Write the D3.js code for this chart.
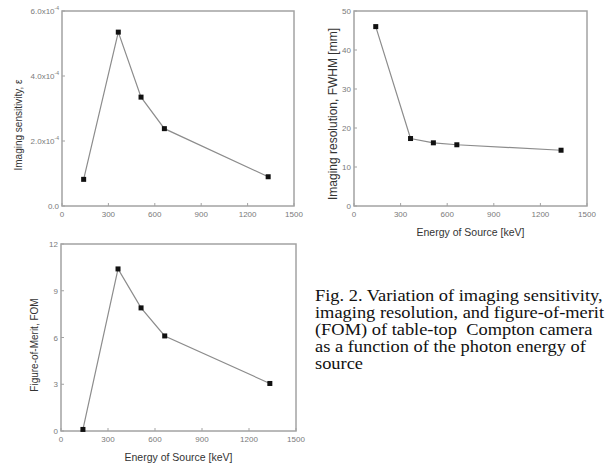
<!DOCTYPE html>
<html>
<head>
<meta charset="utf-8">
<script src="https://cdn.jsdelivr.net/npm/d3@7"></script>
<style>
  body { margin: 0; background: #fff; }
  svg { display: block; }
</style>
</head>
<body>
<div id="chart"></div>
<script>
// photon energies of the sources [keV]
const energies = [140, 364, 511, 662, 1333];
const sensitivity = [0.82e-4, 5.35e-4, 3.35e-4, 2.38e-4, 0.9e-4];
const resolution = [46.0, 17.3, 16.2, 15.7, 14.3];
const fom = [0.1, 10.4, 7.9, 6.1, 3.05];

const xTicks = [0, 300, 600, 900, 1200, 1500];
const sensTicks = [0, 2e-4, 4e-4, 6e-4];
const sensTickLabels = ['0.0', '2.0x10', '4.0x10', '6.0x10'];
const resTicks = [0, 10, 20, 30, 40, 50];
const fomTicks = [0, 3, 6, 9, 12];

const captionLines = [
    'Fig. 2. Variation of imaging sensitivity,',
    'imaging resolution, and figure-of-merit',
    '(FOM) of table-top  Compton camera',
    'as a function of the photon energy of',
    'source'
];

const width = 608;
const height = 467;

const svg = d3.select('#chart')
    .append('svg')
    .attr('width', width)
    .attr('height', height);

const frameColor = '#a3a3a3';
const tickTextColor = '#7a7a7a';
const titleColor = '#333';
const sans = 'Liberation Sans, Arial, sans-serif';

function drawPanel(opt) {
    const x = d3.scaleLinear().domain([0, 1500]).range([opt.left, opt.right]);
    const y = d3.scaleLinear().domain(opt.yDomain).range([opt.bottom, opt.top]);
    const g = svg.append('g');

    // frame
    g.append('rect')
        .attr('x', opt.left)
        .attr('y', opt.top)
        .attr('width', opt.right - opt.left)
        .attr('height', opt.bottom - opt.top)
        .attr('fill', 'none')
        .attr('stroke', frameColor)
        .attr('stroke-width', 1.5);

    // x ticks (inward) + labels
    g.selectAll('line.xt')
        .data(xTicks)
        .join('line')
        .attr('x1', d => x(d)).attr('x2', d => x(d))
        .attr('y1', opt.bottom).attr('y2', opt.bottom - 3)
        .attr('stroke', frameColor);
    g.selectAll('text.xt')
        .data(xTicks)
        .join('text')
        .attr('x', d => x(d))
        .attr('y', opt.bottom + 11)
        .attr('text-anchor', 'middle')
        .attr('font-family', sans)
        .attr('font-size', 8)
        .attr('fill', tickTextColor)
        .text(d => d);

    // y ticks
    g.selectAll('line.yt')
        .data(opt.yTicks)
        .join('line')
        .attr('x1', opt.left).attr('x2', opt.left + 3)
        .attr('y1', d => y(d)).attr('y2', d => y(d))
        .attr('stroke', frameColor);
    const yLab = g.selectAll('text.yt')
        .data(opt.yTicks)
        .join('text')
        .attr('x', opt.left - 3)
        .attr('y', d => y(d) + 3)
        .attr('text-anchor', 'end')
        .attr('font-family', sans)
        .attr('font-size', 8)
        .attr('fill', tickTextColor);
    yLab.each(function(d, i) {
        const t = d3.select(this);
        if (opt.yLabels) {
            t.append('tspan').text(opt.yLabels[i]);
            if (i > 0) {
                t.append('tspan').attr('dy', -4).attr('font-size', 5).text('-4');
            }
        } else {
            t.text(d);
        }
    });

    // axis titles
    g.append('text')
        .attr('transform', `translate(${opt.yTitleX},${opt.yTitleY}) rotate(-90)`)
        .attr('text-anchor', 'middle')
        .attr('font-family', sans)
        .attr('font-size', opt.yTitleSize || 10)
        .attr('fill', titleColor)
        .text(opt.yTitle);
    if (opt.xTitle) {
        g.append('text')
            .attr('x', (opt.left + opt.right) / 2)
            .attr('y', opt.bottom + 30)
            .attr('text-anchor', 'middle')
            .attr('font-family', sans)
            .attr('font-size', 10.5)
            .attr('fill', titleColor)
            .text(opt.xTitle);
    }

    // data line + markers
    const pts = energies.map((e, i) => [e, opt.values[i]]);
    g.append('path')
        .datum(pts)
        .attr('d', d3.line().x(d => x(d[0])).y(d => y(d[1])))
        .attr('fill', 'none')
        .attr('stroke', '#8c8c8c')
        .attr('stroke-width', 1.2);
    g.selectAll('rect.pt')
        .data(pts)
        .join('rect')
        .attr('x', d => x(d[0]) - 2.5)
        .attr('y', d => y(d[1]) - 2.5)
        .attr('width', 5)
        .attr('height', 5)
        .attr('fill', '#111');
}

drawPanel({
    left: 62, right: 294, top: 11, bottom: 206,
    yDomain: [0, 6e-4], yTicks: sensTicks, yLabels: sensTickLabels,
    values: sensitivity,
    yTitle: 'Imaging sensitivity, \u03b5', yTitleX: 22, yTitleY: 125
});

drawPanel({
    left: 354, right: 587, top: 11, bottom: 206,
    yDomain: [0, 50], yTicks: resTicks,
    values: resolution,
    yTitle: 'Imaging resolution,  FWHM [mm]', yTitleX: 337, yTitleY: 114, yTitleSize: 12,
    xTitle: 'Energy of Source [keV]'
});

drawPanel({
    left: 61, right: 296, top: 244, bottom: 431,
    yDomain: [0, 12], yTicks: fomTicks,
    values: fom,
    yTitle: 'Figure-of-Merit, FOM', yTitleX: 38, yTitleY: 345,
    xTitle: 'Energy of Source [keV]'
});

// caption - the scanned Times text is a bit wider than Liberation Serif, so stretch it horizontally
svg.append('g')
    .attr('transform', 'translate(315,0) scale(1.15,1)')
    .selectAll('text')
    .data(captionLines)
    .join('text')
    .attr('x', 0)
    .attr('y', (d, i) => 301 + i * 17)
    .attr('font-family', 'Liberation Serif, Times New Roman, serif')
    .attr('font-size', 16)
    .attr('fill', '#111')
    .style('white-space', 'pre')
    .text(d => d);
</script>
</body>
</html>
